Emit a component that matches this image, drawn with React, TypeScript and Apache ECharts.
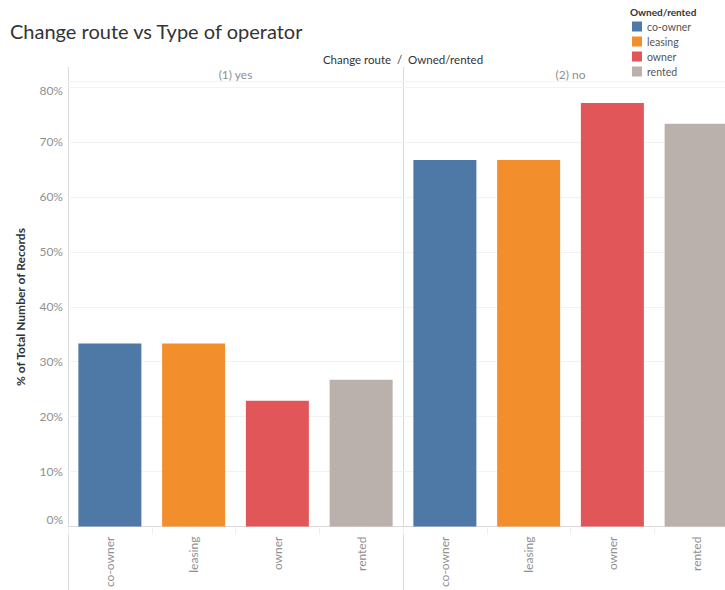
import React, { useEffect, useRef } from "react";
import * as echarts from "echarts";

// Share of records (%) for each operator type, split by whether the route changed
const operatorTypes = ["co-owner", "leasing", "owner", "rented"];
const panelNames = ["(1) yes", "(2) no"];
const yesShare = [33.3, 33.3, 22.9, 26.7];
const noShare = [66.7, 66.7, 77.1, 73.3];
const yTicks = [0, 10, 20, 30, 40, 50, 60, 70, 80];
const typeColors = ["#4e79a7", "#f28e2b", "#e15759", "#bab0ac"];

const FONT = "Lato, 'Open Sans', sans-serif";

export default function App() {
  const ref = useRef<HTMLDivElement>(null);

  useEffect(() => {
    if (!ref.current) return;
    const chart = echarts.init(ref.current, undefined, { renderer: "svg" });

    const panels = [yesShare, noShare];
    const panelLeft = [68, 403];
    const panelWidth = 335;
    const plotTop = 81.5;
    const plotHeight = 452;
    const yMax = 81;

    const grids = panelLeft.map((left) => ({
      left,
      top: plotTop,
      width: panelWidth,
      height: plotHeight,
      containLabel: false,
    }));

    const xAxes = panelLeft.map((_, g) => ({
      type: "category",
      gridIndex: g,
      data: operatorTypes,
      axisLine: { show: true, lineStyle: { color: "#d9d9d9", width: 1 } },
      axisTick: { show: true, length: 8, interval: 0, lineStyle: { color: "#efefef" } },
      axisLabel: {
        rotate: 90,
        interval: 0,
        margin: 10,
        color: "#909090",
        fontSize: 12,
        fontFamily: FONT,
      },
    }));

    // Edge labels are nudged inward so they stay inside the plot band
    const labelRich = {
      low: { padding: [0, 0, 14, 0], color: "#909090", fontSize: 12, fontFamily: FONT },
      high: { padding: [7, 0, 0, 0], color: "#909090", fontSize: 12, fontFamily: FONT },
    };

    const yAxes = panelLeft.map((_, g) => ({
      type: "value",
      gridIndex: g,
      min: 0,
      max: yMax,
      interval: 10,
      axisLine: { show: false },
      axisTick: { show: false },
      axisLabel: {
        show: g === 0,
        color: "#909090",
        fontSize: 12,
        fontFamily: FONT,
        margin: 5,
        rich: labelRich,
        formatter: (v: number) => {
          if (!yTicks.includes(v)) return "";
          if (v === yTicks[0]) return `{low|${v}%}`;
          if (v === yTicks[yTicks.length - 1]) return `{high|${v}%}`;
          return `${v}%`;
        },
      },
      splitLine: {
        show: true,
        lineStyle: { color: "#f2f2f2", width: 1 },
      },
    }));

    const series: any[] = [];
    panels.forEach((vals, g) => {
      operatorTypes.forEach((name, i) => {
        series.push({
          type: "bar",
          name,
          xAxisIndex: g,
          yAxisIndex: g,
          stack: "panel" + g,
          barWidth: 63,
          itemStyle: { color: typeColors[i] },
          data: operatorTypes.map((_, j) => (j === i ? vals[i] : "-")),
        });
      });
    });

    const lineColor = "#d9d9d9";

    chart.setOption({
      animation: false,
      backgroundColor: "#ffffff",
      title: {
        text: "Change route vs Type of operator",
        left: 10,
        top: 21,
        padding: 0,
        textStyle: {
          fontSize: 20,
          fontWeight: "normal",
          color: "#333333",
          fontFamily: FONT,
        },
      },
      legend: {
        data: operatorTypes,
        orient: "vertical",
        left: 632,
        top: 21,
        padding: 0,
        icon: "rect",
        itemWidth: 10,
        itemHeight: 10,
        itemGap: 4,
        textStyle: { fontSize: 10.5, color: "#555555", fontFamily: FONT },
      },
      grid: grids,
      xAxis: xAxes,
      yAxis: yAxes,
      series,
      graphic: [
        {
          type: "text",
          left: 630,
          top: 7,
          style: {
            text: "Owned/rented",
            fontSize: 10,
            fontWeight: "bold",
            fill: "#333333",
            fontFamily: FONT,
          },
        },
        {
          type: "text",
          x: 403,
          y: 59,
          style: {
            text: "Change route  /  Owned/rented",
            fontSize: 11.5,
            fill: "#333333",
            fontFamily: FONT,
            align: "center",
            verticalAlign: "middle",
          },
        },
        ...panelNames.map((p, g) => ({
          type: "text",
          x: panelLeft[g] + panelWidth / 2,
          y: 74,
          style: {
            text: p,
            fontSize: 12,
            fill: "#8f8f8f",
            fontFamily: FONT,
            align: "center",
            verticalAlign: "middle",
          },
        })),
        {
          type: "text",
          x: 20,
          y: 307,
          rotation: Math.PI / 2,
          style: {
            text: "% of Total Number of Records",
            fontSize: 12,
            fontWeight: "bold",
            fill: "#333333",
            fontFamily: FONT,
            align: "center",
            verticalAlign: "middle",
          },
        },
        {
          type: "line",
          shape: { x1: 68, y1: 81.5, x2: 740, y2: 81.5 },
          style: { stroke: lineColor, lineWidth: 1 },
        },
        ...panelLeft.map((x) => ({
          type: "line",
          shape: { x1: x + 0.5, y1: 67, x2: x + 0.5, y2: 590 },
          style: { stroke: lineColor, lineWidth: 1 },
        })),
      ],
    });

    return () => chart.dispose();
  }, []);

  // The right-hand panel runs past the visible edge, so the chart canvas is
  // wider than the frame that clips it.
  return (
    <div
      style={{
        position: "absolute",
        left: 0,
        top: 0,
        width: 725,
        height: 590,
        overflow: "hidden",
        background: "#ffffff",
      }}
    >
      <div ref={ref} style={{ width: 740, height: 590 }} />
    </div>
  );
}
